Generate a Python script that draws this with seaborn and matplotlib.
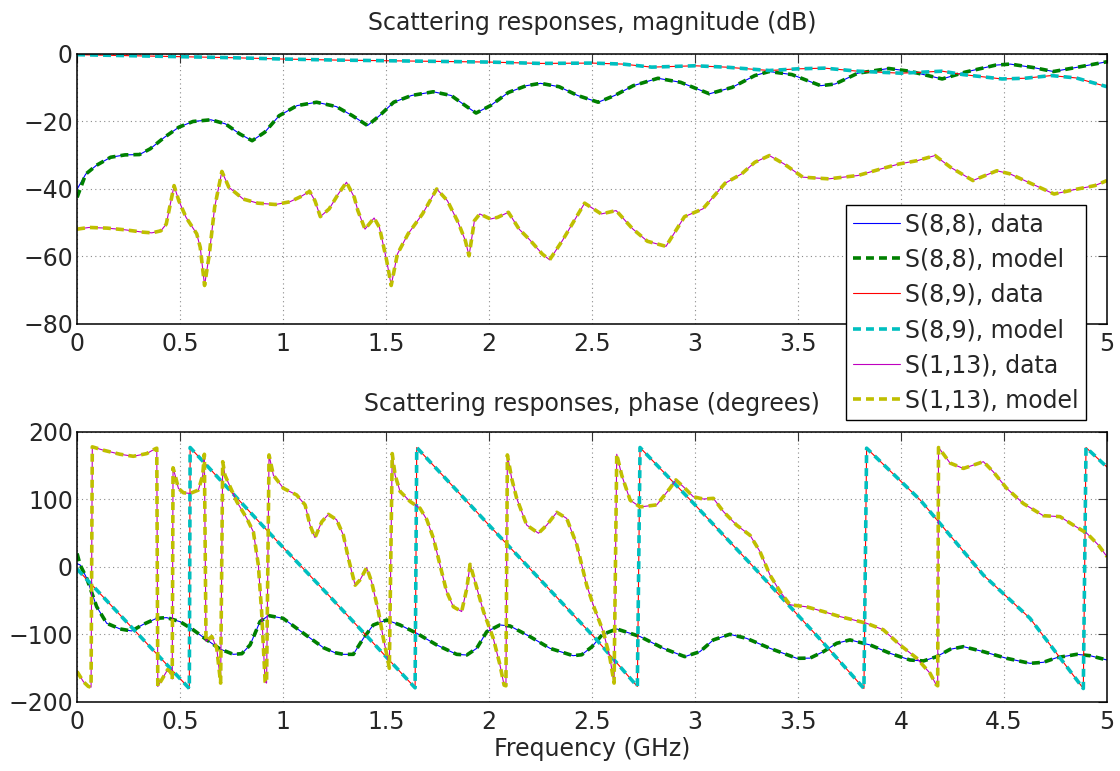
import matplotlib
matplotlib.use("Agg")
import matplotlib.pyplot as plt
import seaborn as sns

# ==========================================
# DATA
# ==========================================

# --- magnitude (dB) ---
f_s88_mag = [0.0, 0.042, 0.094, 0.163, 0.233, 0.303, 0.355, 0.424, 0.494, 0.563,
             0.65, 0.72, 0.79, 0.85, 0.911, 0.981, 1.068, 1.163, 1.259, 1.337,
             1.41, 1.468, 1.537, 1.624, 1.729, 1.816, 1.885, 1.937, 2.007, 2.094,
             2.181, 2.25, 2.34, 2.43, 2.53, 2.61, 2.70, 2.82, 2.93, 3.07,
             3.18, 3.29, 3.36, 3.47, 3.61, 3.68, 3.79, 3.94, 4.04, 4.20,
             4.31, 4.46, 4.53, 4.64, 4.74, 4.85, 5.0]
s88_mag = [-40.1, -35.6, -33.0, -30.6, -29.9, -29.8, -28.1, -24.7, -21.7, -20.0,
           -19.5, -20.7, -23.7, -25.7, -23.2, -18.3, -15.3, -14.3, -15.6, -18.3,
           -21.2, -18.3, -14.3, -12.3, -11.2, -12.3, -15.3, -17.5, -15.3, -11.4,
           -9.4, -8.7, -9.7, -12.3, -14.3, -12.3, -9.4, -7.2, -8.4, -11.8,
           -9.9, -6.4, -5.2, -6.1, -9.4, -8.9, -5.7, -4.3, -5.1, -7.4,
           -5.4, -3.3, -3.0, -4.0, -5.2, -4.0, -2.3]
s88_mag_model_start = -42.5

f_s89_mag = [0.0, 0.25, 0.5, 0.75, 1.0, 1.25, 1.5, 1.75, 2.0, 2.25,
             2.5, 2.65, 2.79, 3.0, 3.15, 3.36, 3.5, 3.63, 3.79, 4.0,
             4.2, 4.3, 4.49, 4.6, 4.73, 4.85, 5.0]
s89_mag = [-0.2, -0.5, -0.8, -1.1, -1.5, -1.8, -2.0, -2.2, -2.4, -2.8,
           -2.7, -3.0, -3.9, -3.5, -3.9, -4.9, -4.4, -4.2, -5.1, -5.7,
           -5.1, -6.1, -7.4, -7.2, -6.4, -7.1, -9.7]

f_s113_mag = [0.0, 0.059, 0.146, 0.233, 0.32, 0.363, 0.407, 0.433, 0.471, 0.494,
              0.529, 0.581, 0.598, 0.619, 0.642, 0.668, 0.703, 0.737, 0.807, 0.877,
              0.963, 1.033, 1.085, 1.129, 1.155, 1.181, 1.224, 1.268, 1.308, 1.346,
              1.363, 1.398, 1.442, 1.468, 1.503, 1.525, 1.555, 1.607, 1.677, 1.746,
              1.798, 1.85, 1.885, 1.903, 1.929, 1.955, 2.007, 2.042, 2.094, 2.146,
              2.198, 2.259, 2.294, 2.356, 2.464, 2.545, 2.617, 2.697, 2.769, 2.859,
              2.949, 3.038, 3.146, 3.227, 3.29, 3.361, 3.433, 3.523, 3.649, 3.792,
              3.9, 3.99, 4.079, 4.165, 4.241, 4.349, 4.465, 4.528, 4.618, 4.743,
              4.833, 4.941, 5.0]
s113_mag = [-51.9, -51.4, -51.6, -52.1, -52.8, -53.0, -52.4, -50.4, -39.0, -43.5,
            -48.4, -53.3, -57.3, -68.6, -59.3, -45.4, -34.8, -39.5, -43.0, -44.2,
            -44.6, -43.8, -42.3, -40.7, -43.5, -48.2, -45.9, -41.5, -38.0, -42.5,
            -46.4, -51.9, -48.6, -51.4, -61.2, -68.6, -59.3, -53.3, -47.4, -40.0,
            -43.5, -49.9, -55.3, -59.8, -49.4, -47.4, -48.9, -48.4, -46.9, -51.9,
            -55.1, -59.3, -61.0, -55.3, -44.2, -47.4, -46.4, -51.8, -55.5, -57.0,
            -48.2, -45.9, -38.3, -35.5, -32.1, -30.1, -32.6, -36.5, -37.0, -36.0,
            -34.1, -32.6, -31.6, -30.1, -33.6, -37.5, -34.6, -35.5, -38.0, -41.5,
            -40.3, -39.0, -37.5]

# --- phase (degrees) ---
f_s88_ph = [0.0, 0.015, 0.047, 0.095, 0.144, 0.209, 0.265, 0.322, 0.387, 0.435,
            0.5, 0.565, 0.63, 0.694, 0.759, 0.8, 0.84, 0.888, 0.929, 1.0,
            1.099, 1.196, 1.252, 1.293, 1.341, 1.39, 1.438, 1.503, 1.568, 1.649,
            1.746, 1.843, 1.892, 1.94, 1.989, 2.053, 2.102, 2.199, 2.296, 2.408,
            2.45, 2.5, 2.55, 2.62, 2.733, 2.846, 2.95, 3.024, 3.089, 3.169,
            3.25, 3.364, 3.494, 3.558, 3.623, 3.688, 3.752, 3.85, 3.947, 4.044,
            4.109, 4.173, 4.238, 4.303, 4.4, 4.513, 4.626, 4.691, 4.756, 4.853,
            4.918, 5.0]
s88_ph = [5.0, 3.0, -16.8, -58.7, -83.4, -91.8, -94.8, -84.9, -76.0, -75.0,
          -81.0, -93.3, -108.0, -121.5, -129.4, -128.4, -115.5, -81.0, -72.0, -76.0,
          -98.2, -119.5, -127.0, -129.4, -129.4, -105.7, -85.9, -78.5, -85.9, -98.2,
          -115.5, -129.4, -130.4, -120.5, -95.8, -85.9, -87.4, -103.2, -120.5, -131.4,
          -130.0, -118.0, -100.0, -91.8, -103.0, -120.5, -132.8, -125.4, -108.0, -99.7,
          -105.7, -120.5, -135.3, -135.0, -125.4, -113.0, -108.0, -115.5, -127.9, -137.8,
          -139.2, -132.8, -122.0, -118.0, -125.4, -135.3, -142.7, -141.2, -134.3, -129.4,
          -131.4, -137.8]
s88_ph_model_start = 20.0

f_s89_ph = [0.0, 0.27, 0.545, 0.549, 0.929, 1.228, 1.641, 1.649, 2.0, 2.514,
            2.72, 2.733, 3.0, 3.29, 3.607, 3.82, 3.833, 4.094, 4.4, 4.626,
            4.885, 4.898, 5.0]
s89_ph = [-3.0, -91.0, -180.0, 177.0, 52.0, -44.0, -179.0, 177.0, 62.0, -105.0,
          -177.0, 177.0, 92.0, -2.0, -107.0, -180.0, 176.0, 99.0, -12.0, -76.0,
          -180.0, 177.0, 148.0]

f_s113_ph = [0.0, 0.031, 0.055, 0.068, 0.074, 0.128, 0.209, 0.273, 0.338, 0.379,
             0.387, 0.392, 0.419, 0.44, 0.455, 0.462, 0.466, 0.476, 0.492, 0.516,
             0.549, 0.589, 0.61, 0.618, 0.626, 0.654, 0.678, 0.697, 0.707, 0.718,
             0.775, 0.824, 0.856, 0.88, 0.896, 0.913, 0.92, 0.932, 0.953, 1.002,
             1.066, 1.107, 1.131, 1.155, 1.188, 1.22, 1.26, 1.293, 1.317, 1.35,
             1.374, 1.406, 1.43, 1.463, 1.487, 1.507, 1.516, 1.53, 1.544, 1.568,
             1.617, 1.665, 1.698, 1.73, 1.762, 1.794, 1.827, 1.867, 1.892, 1.908,
             1.932, 1.973, 2.021, 2.053, 2.073, 2.082, 2.089, 2.11, 2.134, 2.183,
             2.24, 2.28, 2.329, 2.377, 2.426, 2.474, 2.51, 2.555, 2.587, 2.607,
             2.62, 2.644, 2.685, 2.733, 2.814, 2.878, 2.907, 2.943, 2.992, 3.04,
             3.089, 3.138, 3.202, 3.267, 3.315, 3.364, 3.413, 3.461, 3.542, 3.623,
             3.704, 3.777, 3.833, 3.914, 3.995, 4.076, 4.141, 4.17, 4.178, 4.182,
             4.197, 4.238, 4.303, 4.351, 4.4, 4.448, 4.513, 4.594, 4.691, 4.772,
             4.837, 4.902, 4.958, 5.0]
s113_ph = [-155.0, -170.0, -177.0, -178.0, 178.0, 173.0, 167.0, 164.0, 168.0, 175.0,
           176.0, -177.0, -163.0, -152.0, -156.0, -166.0, 147.0, 136.0, 116.5, 110.0,
           109.0, 114.0, 136.0, 167.0, -110.0, -103.0, -120.0, -172.0, 156.0, 136.0,
           97.0, 72.0, 52.0, 3.0, -66.0, -170.0, -172.0, 166.0, 136.0, 116.5,
           106.7, 92.0, 62.0, 43.5, 67.0, 78.0, 70.0, 47.0, 13.0, -27.0,
           -19.0, -1.0, -22.0, -66.0, -106.0, -135.0, -150.0, 168.0, 136.0, 112.0,
           97.0, 87.0, 70.0, 42.5, 3.0, -36.5, -59.0, -66.0, -32.0, 4.0,
           -22.0, -66.0, -106.0, -145.0, -175.0, -176.0, 166.0, 131.0, 102.0, 62.0,
           50.0, 62.0, 81.0, 72.0, 33.0, -27.0, -60.0, -96.0, -135.0, -172.0,
           167.0, 136.0, 99.0, 89.0, 92.0, 116.5, 129.0, 119.0, 104.0, 100.7,
           101.7, 82.0, 62.0, 47.0, 23.0, -12.0, -36.5, -56.0, -59.0, -66.0,
           -73.5, -79.0, -83.4, -93.0, -115.5, -135.0, -157.5, -174.0, -176.0, 177.0,
           171.0, 154.0, 146.0, 151.0, 156.0, 141.0, 116.5, 94.0, 76.0, 74.6,
           62.0, 50.0, 32.6, 15.3]

XTICKS = [0, 0.5, 1, 1.5, 2, 2.5, 3, 3.5, 4, 4.5, 5]
XTICK_LABELS = ["0", "0.5", "1", "1.5", "2", "2.5", "3", "3.5", "4", "4.5", "5"]
MAG_TICKS = [-80, -60, -40, -20, 0]
PHASE_TICKS = [-200, -100, 0, 100, 200]

LABELS = ["S(8,8), data", "S(8,8), model",
          "S(8,9), data", "S(8,9), model",
          "S(1,13), data", "S(1,13), model"]

# ==========================================
# STYLE
# ==========================================

sns.set_theme(style="white")
plt.rcParams["font.family"] = ["DejaVu Sans"]
plt.rcParams["font.size"] = 17
plt.rcParams["axes.unicode_minus"] = True

# classic MATLAB colour order
COLORS = [(0, 0, 1), (0, 0.5, 0),
          (1, 0, 0), (0, 0.75, 0.75),
          (0.75, 0, 0.75), (0.75, 0.75, 0)]
DATA_LW = 0.8
MODEL_LW = 2.6
MODEL_LS = (0, (2.2, 1.4))

fig = plt.figure(figsize=(11.2, 7.71), dpi=100)
ax1 = fig.add_axes([0.0688, 0.5798, 0.9196, 0.3502])
ax2 = fig.add_axes([0.0688, 0.0895, 0.9196, 0.3502])


def draw(ax, f, v, idx):
    model = idx % 2 == 1
    sns.lineplot(
        x=f, y=v, ax=ax,
        color=COLORS[idx],
        linewidth=MODEL_LW if model else DATA_LW,
        linestyle=MODEL_LS if model else "-",
        label=LABELS[idx],
        sort=False, estimator=None, legend=False,
    )


# magnitude panel
draw(ax1, f_s88_mag, s88_mag, 0)
draw(ax1, f_s88_mag, [s88_mag_model_start] + s88_mag[1:], 1)
draw(ax1, f_s89_mag, s89_mag, 2)
draw(ax1, f_s89_mag, s89_mag, 3)
draw(ax1, f_s113_mag, s113_mag, 4)
draw(ax1, f_s113_mag, s113_mag, 5)

# phase panel
draw(ax2, f_s88_ph, s88_ph, 0)
draw(ax2, f_s88_ph, [s88_ph_model_start] + s88_ph[1:], 1)
draw(ax2, f_s89_ph, s89_ph, 2)
draw(ax2, f_s89_ph, s89_ph, 3)
draw(ax2, f_s113_ph, s113_ph, 4)
draw(ax2, f_s113_ph, s113_ph, 5)

for ax, yt in ((ax1, MAG_TICKS), (ax2, PHASE_TICKS)):
    ax.set_xlim(0, 5)
    ax.set_ylim(yt[0], yt[-1])
    ax.set_xticks(XTICKS)
    ax.set_xticklabels(XTICK_LABELS)
    ax.set_yticks(yt)
    ax.set_xlabel("")
    ax.set_ylabel("")
    ax.grid(True, linestyle=(0, (1, 3)), color="#8a8a8a", linewidth=0.8)
    ax.tick_params(direction="in", length=6.5, width=0.8, color="#333333",
                   top=True, right=True, labelsize=17)
    ax.tick_params(axis="x", pad=6)
    ax.tick_params(axis="y", pad=3)
    for sp in ax.spines.values():
        sp.set_color("black")
        sp.set_linewidth(1.1)

ax1.set_title("Scattering responses, magnitude (dB)", fontsize=17, pad=17)
ax2.set_title("Scattering responses, phase (degrees)", fontsize=17, pad=15)
ax2.set_xlabel("Frequency (GHz)", fontsize=17, labelpad=2)

handles, labels = ax1.get_legend_handles_labels()
leg = fig.legend(
    handles, labels,
    loc="upper left",
    bbox_to_anchor=(846 / 1120, 1 - 205 / 771),
    borderaxespad=0,
    fontsize=17,
    frameon=True,
    fancybox=False,
    framealpha=1,
    edgecolor="black",
    handlelength=2.0,
    handletextpad=0.2,
    labelspacing=0.48,
    borderpad=0.3,
)
leg.get_frame().set_linewidth(1.0)

fig.savefig("out.png", dpi=100)
plt.close(fig)
